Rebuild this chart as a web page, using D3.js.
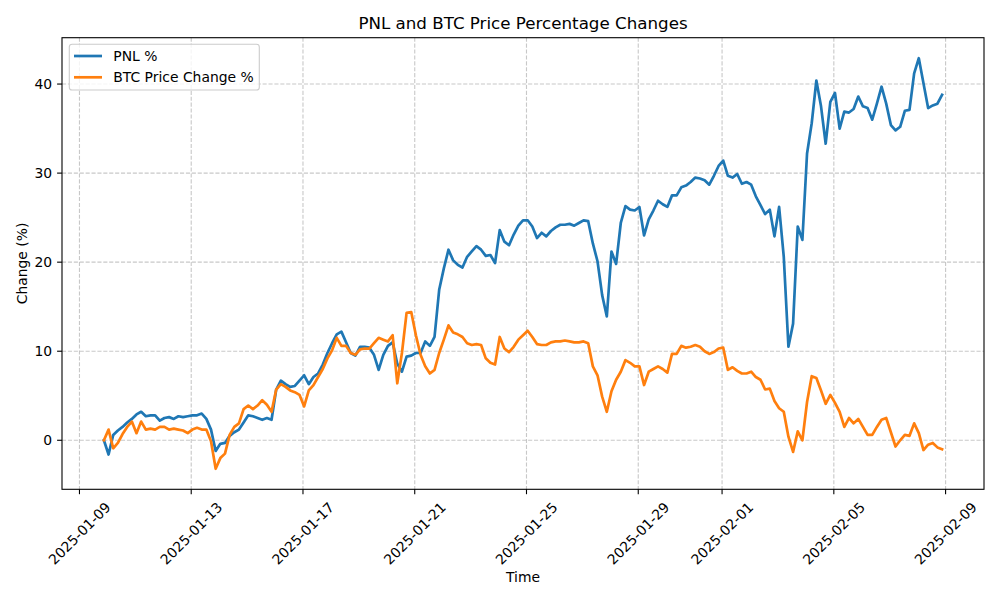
<!DOCTYPE html>
<html>
<head>
<meta charset="utf-8">
<script src="https://cdn.jsdelivr.net/npm/d3@7"></script>
<style>
    body { margin: 0; background: #fff; }
    text { font-family: "DejaVu Sans", sans-serif; fill: #000; }
</style>
</head>
<body>
<div id="chart"></div>
<script>
// readings every 4 hours, first one at 2025-01-09 21:00
const startTime = "2025-01-09T21:00:00Z";
const stepHours = 4;

const pnlValues = [
    0.0, -1.6, 0.6, 1.1, 1.5, 2.0, 2.4, 2.9, 3.2, 2.7,
    2.8, 2.8, 2.2, 2.5, 2.6, 2.4, 2.7, 2.6, 2.7, 2.8,
    2.8, 3.0, 2.4, 1.2, -1.2, -0.4, -0.3, 0.5, 0.9, 1.2,
    2.0, 2.8, 2.7, 2.5, 2.3, 2.5, 2.3, 5.7, 6.7, 6.3,
    6.0, 6.1, 6.7, 7.3, 6.3, 7.1, 7.5, 8.5, 9.8, 10.9,
    11.9, 12.2, 11.0, 9.8, 9.5, 10.5, 10.5, 10.4, 9.6, 7.9,
    9.6, 10.6, 11.0, 8.6, 7.7, 9.4, 9.5, 9.8, 9.8, 11.1,
    10.6, 11.6, 16.9, 19.3, 21.4, 20.2, 19.7, 19.4, 20.6, 21.2,
    21.8, 21.4, 20.7, 20.8, 19.9, 23.6, 22.3, 21.9, 23.1, 24.1,
    24.7, 24.7, 24.0, 22.7, 23.3, 22.9, 23.5, 23.9, 24.2, 24.2,
    24.3, 24.1, 24.4, 24.7, 24.6, 22.1, 20.1, 16.3, 13.9, 21.2,
    19.8, 24.4, 26.3, 25.9, 25.8, 26.2, 23.0, 24.8, 25.8, 26.9,
    26.5, 26.2, 27.5, 27.5, 28.4, 28.6, 29.0, 29.5, 29.4, 29.2,
    28.7, 29.7, 30.8, 31.4, 29.7, 29.5, 29.9, 28.8, 29.0, 28.7,
    27.4, 26.4, 25.4, 25.9, 22.9, 26.2, 20.6, 10.5, 13.1, 24.0,
    22.5, 32.2, 35.6, 40.4, 37.5, 33.3, 38.0, 39.0, 35.0, 36.9,
    36.8, 37.2, 38.6, 37.5, 37.3, 36.0, 37.8, 39.7, 37.8, 35.4,
    34.8, 35.2, 37.0, 37.1, 41.2, 42.9, 40.1, 37.3, 37.6, 37.8,
    38.8
];

const btcValues = [
    0.0, 1.2, -0.9, -0.3, 0.7, 1.5, 2.1, 0.8, 2.1, 1.2,
    1.3, 1.2, 1.5, 1.5, 1.2, 1.3, 1.2, 1.1, 0.8, 1.2,
    1.4, 1.2, 1.2, -0.1, -3.2, -2.0, -1.5, 0.6, 1.5, 1.9,
    3.5, 3.9, 3.5, 3.9, 4.5, 4.0, 3.2, 5.7, 6.3, 6.0,
    5.6, 5.4, 5.1, 3.8, 5.6, 6.2, 7.1, 8.0, 9.2, 10.1,
    11.5, 10.6, 10.6, 9.8, 9.6, 10.2, 10.3, 10.3, 10.9, 11.5,
    11.3, 11.1, 11.8, 6.4, 9.8, 14.3, 14.4, 11.8, 9.6, 8.3,
    7.5, 7.9, 9.8, 11.3, 12.9, 12.1, 11.9, 11.6, 10.9, 10.7,
    10.8, 10.7, 9.2, 8.7, 8.5, 11.6, 10.3, 9.9, 10.5, 11.3,
    11.8, 12.3, 11.6, 10.8, 10.7, 10.7, 11.0, 11.1, 11.1, 11.2,
    11.1, 11.0, 11.0, 11.1, 10.9, 8.3, 7.3, 4.9, 3.2, 5.5,
    6.8, 7.7, 9.0, 8.7, 8.3, 8.3, 6.2, 7.7, 8.0, 8.3,
    8.0, 7.6, 9.7, 9.7, 10.6, 10.4, 10.5, 10.7, 10.5, 10.0,
    9.7, 9.9, 10.3, 10.4, 7.9, 8.2, 7.8, 7.5, 7.5, 7.7,
    7.1, 6.8, 5.7, 5.8, 4.4, 3.6, 3.2, 0.4, -1.3, 1.0,
    0.0, 4.3, 7.2, 7.0, 5.6, 4.1, 5.1, 4.2, 3.2, 1.5,
    2.5, 1.9, 2.4, 1.5, 0.6, 0.6, 1.5, 2.3, 2.5, 0.9,
    -0.7, 0.0, 0.6, 0.5, 1.9, 0.8, -1.1, -0.5, -0.3, -0.8,
    -1.0
];

const xTickLabels = ["2025-01-09", "2025-01-13", "2025-01-17", "2025-01-21", "2025-01-25",
    "2025-01-29", "2025-02-01", "2025-02-05", "2025-02-09"];
const yTicks = [0, 10, 20, 30, 40];
const seriesNames = ["PNL %", "BTC Price Change %"];

function init() {
    const w = 1000;
    const h = 600;
    const left = 62, right = 984, top = 37.7, bottom = 489.3;
    const colors = ["#1f77b4", "#ff7f0e"];

    const t0 = new Date(startTime);
    const times = pnlValues.map((v, i) => d3.utcHour.offset(t0, i * stepHours));

    const svg = d3.select("#chart")
        .append("svg")
        .attr("width", w)
        .attr("height", h);

    // matplotlib style 5% margins
    const tExt = d3.extent(times);
    const tPad = (tExt[1] - tExt[0]) * 0.05;
    const x = d3.scaleUtc()
        .domain([new Date(+tExt[0] - tPad), new Date(+tExt[1] + tPad)])
        .range([left, right]);

    const allVals = pnlValues.concat(btcValues);
    const vExt = d3.extent(allVals);
    const vPad = (vExt[1] - vExt[0]) * 0.05;
    const y = d3.scaleLinear()
        .domain([vExt[0] - vPad, vExt[1] + vPad])
        .range([bottom, top]);

    const parseDay = d3.utcParse("%Y-%m-%d");
    const xTicks = xTickLabels.map(parseDay);

    // grid
    const grid = svg.append("g")
        .attr("stroke", "#b0b0b0")
        .attr("stroke-opacity", 0.7)
        .attr("stroke-width", 1.1)
        .attr("stroke-dasharray", "4.1,1.8");
    grid.selectAll(".vgrid")
        .data(xTicks)
        .enter()
        .append("line")
        .attr("x1", d => x(d)).attr("x2", d => x(d))
        .attr("y1", top).attr("y2", bottom);
    grid.selectAll(".hgrid")
        .data(yTicks)
        .enter()
        .append("line")
        .attr("y1", d => y(d)).attr("y2", d => y(d))
        .attr("x1", left).attr("x2", right);

    // lines
    const series = [pnlValues, btcValues];
    const line = d3.line()
        .x((d, i) => x(times[i]))
        .y(d => y(d));

    const clip = svg.append("defs").append("clipPath").attr("id", "plotClip");
    clip.append("rect").attr("x", left).attr("y", top)
        .attr("width", right - left).attr("height", bottom - top);

    svg.append("g")
        .attr("clip-path", "url(#plotClip)")
        .selectAll("path")
        .data(series)
        .enter()
        .append("path")
        .attr("d", line)
        .attr("fill", "none")
        .attr("stroke", (d, i) => colors[i])
        .attr("stroke-width", 2.7)
        .attr("stroke-linejoin", "round")
        .attr("stroke-linecap", "square");

    // frame
    svg.append("rect")
        .attr("x", left).attr("y", top)
        .attr("width", right - left).attr("height", bottom - top)
        .attr("fill", "none")
        .attr("stroke", "#000")
        .attr("stroke-width", 1.1);

    // y axis
    const yAxis = svg.append("g");
    yAxis.selectAll("line")
        .data(yTicks)
        .enter()
        .append("line")
        .attr("x1", left - 4.9).attr("x2", left)
        .attr("y1", d => y(d)).attr("y2", d => y(d))
        .attr("stroke", "#000").attr("stroke-width", 1.1);
    yAxis.selectAll("text")
        .data(yTicks)
        .enter()
        .append("text")
        .attr("x", left - 9.8)
        .attr("y", d => y(d))
        .attr("dy", "0.36em")
        .attr("text-anchor", "end")
        .style("font-size", "13.9px")
        .text(d => d);

    // x axis, labels turned 45 degrees and centred on the tick
    const xAxis = svg.append("g");
    xAxis.selectAll("line")
        .data(xTicks)
        .enter()
        .append("line")
        .attr("x1", d => x(d)).attr("x2", d => x(d))
        .attr("y1", bottom).attr("y2", bottom + 4.9)
        .attr("stroke", "#000").attr("stroke-width", 1.1);
    xAxis.selectAll("text")
        .data(xTicks)
        .enter()
        .append("text")
        .attr("text-anchor", "middle")
        .attr("dy", "0.36em")
        .style("font-size", "13.9px")
        .text((d, i) => xTickLabels[i])
        .each(function (d) {
            const len = this.getComputedTextLength();
            const half = (len + 16) * Math.SQRT1_2 / 2;
            const cx = x(d);
            const cy = bottom + 9.8 + half;
            d3.select(this)
                .attr("x", cx).attr("y", cy)
                .attr("transform", "rotate(-45," + cx + "," + cy + ")");
        });

    // labels and title
    svg.append("text")
        .attr("x", (left + right) / 2)
        .attr("y", 29)
        .attr("text-anchor", "middle")
        .style("font-size", "16.7px")
        .text("PNL and BTC Price Percentage Changes");

    svg.append("text")
        .attr("x", (left + right) / 2)
        .attr("y", 582)
        .attr("text-anchor", "middle")
        .style("font-size", "13.9px")
        .text("Time");

    svg.append("text")
        .attr("transform", "translate(27," + ((top + bottom) / 2) + ") rotate(-90)")
        .attr("text-anchor", "middle")
        .style("font-size", "13.9px")
        .text("Change (%)");

    // legend
    const legend = svg.append("g");
    legend.append("rect")
        .attr("x", 69.3).attr("y", 44.3)
        .attr("width", 190).attr("height", 45.7)
        .attr("rx", 2.8)
        .attr("fill", "#fff").attr("fill-opacity", 0.8)
        .attr("stroke", "#cccccc").attr("stroke-width", 1.1);
    const items = legend.selectAll(".item")
        .data(seriesNames)
        .enter()
        .append("g")
        .attr("transform", (d, i) => "translate(0," + (56 + i * 21.3) + ")");
    items.append("line")
        .attr("x1", 74).attr("x2", 102)
        .attr("stroke", (d, i) => colors[i])
        .attr("stroke-width", 2.7);
    items.append("text")
        .attr("x", 113.3)
        .attr("dy", "0.36em")
        .style("font-size", "13.9px")
        .text(d => d);
}

window.addEventListener('load', init);
</script>
</body>
</html>
